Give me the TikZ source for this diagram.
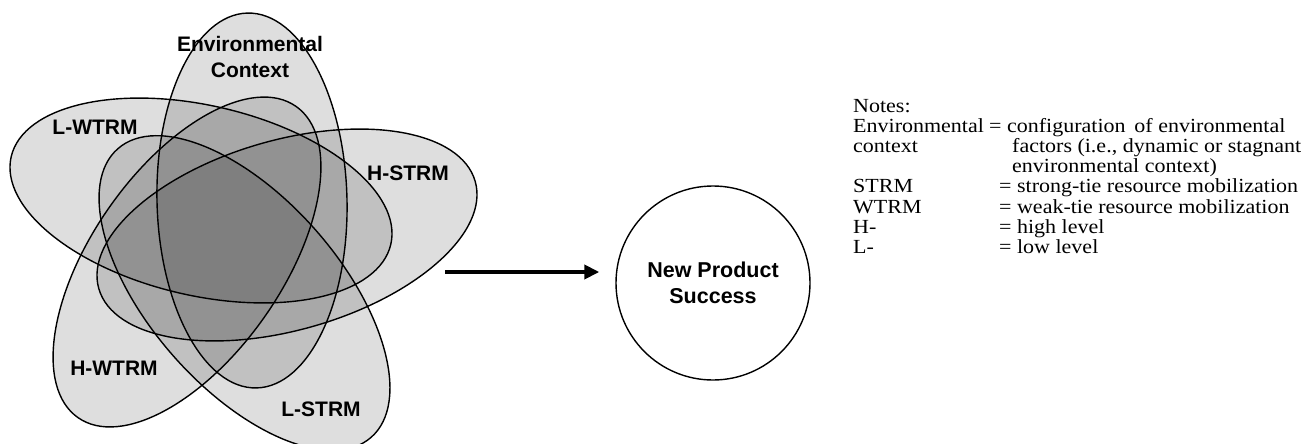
\documentclass[tikz,border=0pt]{standalone}
\usepackage{fontspec}
\setmainfont{Liberation Serif}
\newfontfamily\notefont{Liberation Serif}[FakeStretch=1.1]
\newfontfamily\labelfont{Liberation Sans}
\usetikzlibrary{arrows.meta}
\begin{document}
\begin{tikzpicture}[x=1pt,y=1pt,
  petal/.style={fill=black, fill opacity=0.13},
  rim/.style={draw=black, line width=1.4pt},
  setlabel/.style={font=\labelfont\bfseries\fontsize{21}{26}\selectfont, inner sep=0pt},
  note/.style={font=\notefont\fontsize{20}{20}\selectfont, anchor=base west, inner sep=0pt}]
\useasboundingbox (0,0) rectangle (1314,-444);

% five overlapping configuration sets
\begin{scope}
  \clip (0,0) rectangle (1314,-444);
  \foreach \cx/\cy/\ang/\ra in {252/-200.5/91.4/187.5, 201/-200.5/-13/194.8,
      287/-235/15.9/195.7, 187/-262/55/190, 244.5/-293/-48.7/192}
    \fill[petal, shift={(\cx,\cy)}, rotate=\ang] (0,0) ellipse [x radius=\ra pt, y radius=95pt];
  \foreach \cx/\cy/\ang/\ra in {252/-200.5/91.4/187.5, 201/-200.5/-13/194.8,
      287/-235/15.9/195.7, 187/-262/55/190, 244.5/-293/-48.7/192}
    \draw[rim, shift={(\cx,\cy)}, rotate=\ang] (0,0) ellipse [x radius=\ra pt, y radius=95pt];
\end{scope}

% set labels
\node[setlabel, align=center] (env) at (250,-57) {Environmental\\Context};
\node[setlabel] (lw) at (95,-127) {L-WTRM};
\node[setlabel] (hs) at (408,-173) {H-STRM};
\node[setlabel] (hw) at (114,-368) {H-WTRM};
\node[setlabel] (ls) at (321,-409) {L-STRM};

% outcome
\node[circle, draw, line width=1.4pt, minimum size=194pt, inner sep=0pt, align=center,
      font=\labelfont\bfseries\fontsize{21.5}{26}\selectfont] (nps) at (713,-283) {New Product\\Success};
\coordinate (arrowstart) at (445,-272);
\draw[line width=4pt, -{Triangle[length=15pt,width=14pt]}, shorten >=16pt]
  (arrowstart) -- (arrowstart -| nps.west);

% notes
\node[note] (t0) at (853,-112.5) {Notes:};
\node[note] (t1a) at (853,-132.6) {Environmental};
\node[note] (t1b) at (989,-132.6) {= configuration\ \,of environmental};
\node[note] (t2a) at (853,-152.7) {context};
\node[note] (t2b) at (1012,-152.7) {factors (i.e., dynamic or stagnant};
\node[note] (t3b) at (1012,-172.8) {environmental context)};
\node[note] (t4a) at (853,-192.9) {STRM};
\node[note] (t4b) at (999,-192.9) {= strong-tie resource mobilization};
\node[note] (t5a) at (853,-213) {WTRM};
\node[note] (t5b) at (999,-213) {= weak-tie resource mobilization};
\node[note] (t6a) at (853,-233.1) {H-};
\node[note] (t6b) at (999,-233.1) {= high level};
\node[note] (t7a) at (853,-253.2) {L-};
\node[note] (t7b) at (999,-253.2) {= low level};
\end{tikzpicture}
\end{document}
